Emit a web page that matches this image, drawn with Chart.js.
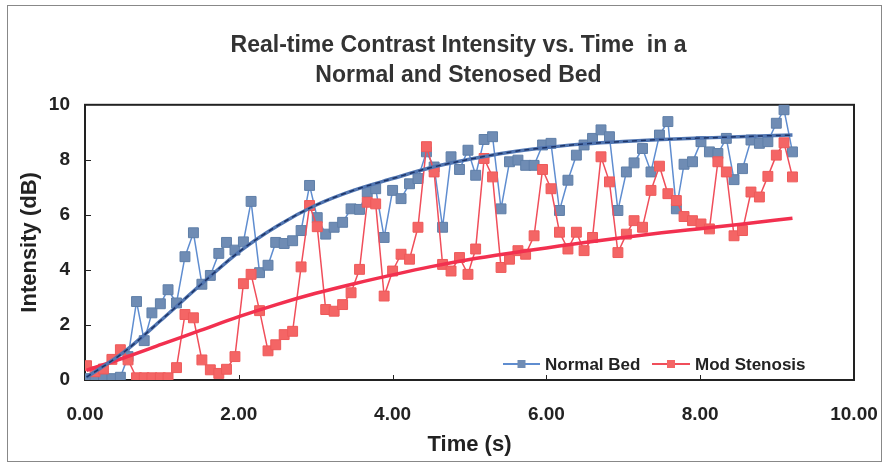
<!DOCTYPE html>
<html>
<head>
<meta charset="utf-8">
<script src="https://cdn.jsdelivr.net/npm/chart.js@4"></script>
<style>
  body { margin: 0; background: #fff; }
  canvas { display: block; }
</style>
</head>
<body>
<canvas id="intensityChart" width="883" height="464"></canvas>
<script>
// sample times (s)
const times = [0.02, 0.13, 0.24, 0.35, 0.46, 0.56, 0.67, 0.77, 0.87, 0.98,
  1.08, 1.19, 1.30, 1.41, 1.52, 1.63, 1.74, 1.84, 1.95, 2.06,
  2.16, 2.27, 2.38, 2.48, 2.59, 2.70, 2.81, 2.92, 3.02, 3.13,
  3.24, 3.35, 3.46, 3.57, 3.67, 3.78, 3.89, 4.00, 4.11, 4.22,
  4.33, 4.44, 4.54, 4.65, 4.76, 4.87, 4.98, 5.08, 5.19, 5.30,
  5.41, 5.52, 5.63, 5.73, 5.84, 5.95, 6.06, 6.17, 6.28, 6.39,
  6.49, 6.60, 6.71, 6.82, 6.93, 7.04, 7.14, 7.25, 7.36, 7.47,
  7.58, 7.69, 7.79, 7.90, 8.01, 8.12, 8.23, 8.34, 8.44, 8.55,
  8.66, 8.77, 8.88, 8.99, 9.09, 9.20];

// Normal Bed intensity (dB)
const normalBed = [0.05, 0.05, 0.05, 0.05, 0.1, 0.85, 2.85, 1.43, 2.44, 2.77,
  3.28, 2.8, 4.48, 5.35, 3.48, 3.8, 4.6, 5.0, 4.72, 5.02,
  6.49, 3.9, 4.17, 5.0, 4.96, 5.06, 5.43, 7.07, 5.9, 5.3,
  5.55, 5.73, 6.22, 6.2, 6.83, 6.95, 5.18, 6.89, 6.59, 7.13,
  7.32, 8.29, 7.74, 5.55, 8.11, 7.65, 8.35, 7.44, 8.74, 8.84,
  6.22, 7.93, 7.99, 7.8, 7.8, 8.54, 8.6, 6.16, 7.26, 8.17,
  8.54, 8.78, 9.09, 8.84, 6.16, 7.56, 7.89, 8.41, 7.56, 8.9,
  9.39, 6.22, 7.84, 7.93, 8.66, 8.29, 8.23, 8.78, 7.28, 7.68,
  8.72, 8.6, 8.66, 9.33, 9.82, 8.29];

// Mod Stenosis intensity (dB)
const modStenosis = [0.52, 0.3, 0.4, 0.75, 1.1, 0.73, 0.08, 0.08, 0.08, 0.08,
  0.08, 0.45, 2.38, 2.26, 0.73, 0.37, 0.24, 0.39, 0.85, 3.5,
  3.84, 2.52, 1.06, 1.28, 1.65, 1.77, 4.11, 6.34, 5.57, 2.56,
  2.5, 2.74, 3.17, 4.02, 6.46, 6.4, 3.05, 3.96, 4.57, 4.39,
  5.55, 8.48, 7.56, 4.2, 3.96, 4.45, 3.84, 4.76, 8.05, 7.38,
  4.09, 4.39, 4.7, 4.57, 5.24, 7.65, 6.95, 5.37, 4.76, 5.37,
  4.7, 5.18, 8.11, 7.2, 4.63, 5.3, 5.79, 5.55, 6.89, 7.77,
  6.77, 6.52, 5.94, 5.79, 5.67, 5.49, 7.93, 7.56, 5.24, 5.43,
  6.83, 6.65, 7.4, 8.17, 8.62, 7.38];

// trend lines
const trendTimes = [0.02, 0.5, 1.0, 1.5, 2.0, 2.5, 3.0, 3.5, 4.0, 4.5, 5.0, 5.5, 6.0, 6.5, 7.0, 7.5, 8.0, 8.5, 9.2];
const normalTrend = [0.1, 1.0, 2.2, 3.45, 4.65, 5.6, 6.35, 6.9, 7.32, 7.72, 8.02, 8.27, 8.45, 8.58, 8.67, 8.74, 8.79, 8.84, 8.9];
const stenosisTrend = [0.35, 0.8, 1.3, 1.8, 2.3, 2.75, 3.15, 3.5, 3.82, 4.12, 4.38, 4.6, 4.8, 5.0, 5.18, 5.35, 5.5, 5.65, 5.88];

const xTicks = [0, 2, 4, 6, 8, 10];

const pts = (xs, ys) => xs.map((x, i) => ({ x: x, y: ys[i] }));

const BLUE_MARK = '#6F8CB4';
const BLUE_LINE = '#5F8DD0';
const RED_MARK = '#F46565';
const RED_LINE = '#F04E5A';
const FONT = '"Liberation Sans", Arial, sans-serif';

const framePlugin = {
  id: 'frame',
  beforeDatasetsDraw(chart) {
    const { ctx, chartArea: a, scales } = chart;
    ctx.save();
    // outer frame
    ctx.strokeStyle = '#888';
    ctx.lineWidth = 1;
    ctx.strokeRect(7.5, 5.5, 874, 456);
    // plot box
    ctx.strokeStyle = '#222';
    ctx.lineWidth = 2;
    ctx.strokeRect(a.left, a.top, a.right - a.left, a.bottom - a.top);
    // inward tick marks
    ctx.lineWidth = 1;
    xTicks.forEach(v => {
      const px = Math.round(scales.x.getPixelForValue(v)) + 0.5;
      ctx.beginPath(); ctx.moveTo(px, a.bottom); ctx.lineTo(px, a.bottom - 5); ctx.stroke();
    });
    [2, 4, 6, 8].forEach(v => {
      const py = Math.round(scales.y.getPixelForValue(v)) + 0.5;
      ctx.beginPath(); ctx.moveTo(a.left, py); ctx.lineTo(a.left + 6, py); ctx.stroke();
    });
    ctx.restore();
  },
  afterDraw(chart) {
    // legend inside the plot, bottom right
    const { ctx } = chart;
    const items = [
      { ds: chart.data.datasets[0], x0: 503, x1: 540, tx: 545 },
      { ds: chart.data.datasets[1], x0: 652, x1: 690, tx: 695 }
    ];
    const y = 364;
    ctx.save();
    ctx.font = 'bold 17px ' + FONT;
    ctx.textBaseline = 'middle';
    items.forEach(it => {
      ctx.strokeStyle = it.ds.borderColor;
      ctx.lineWidth = 2;
      ctx.beginPath(); ctx.moveTo(it.x0, y); ctx.lineTo(it.x1, y); ctx.stroke();
      const mx = (it.x0 + it.x1) / 2;
      ctx.fillStyle = it.ds.pointBackgroundColor;
      ctx.fillRect(mx - 4, y - 4, 8, 8);
      ctx.fillStyle = '#222';
      ctx.fillText(it.ds.label, it.tx, y + 1);
    });
    ctx.restore();
  }
};

const ctx = document.getElementById('intensityChart').getContext('2d');
const intensityChart = new Chart(ctx, {
  type: 'scatter',
  data: {
    datasets: [
      {
        label: 'Normal Bed',
        data: pts(times, normalBed),
        showLine: true,
        borderColor: BLUE_LINE,
        borderWidth: 1.5,
        pointStyle: 'rect',
        pointRadius: 7,
        pointBackgroundColor: BLUE_MARK,
        pointBorderColor: '#5F7FA8',
        pointBorderWidth: 1,
        order: 4
      },
      {
        label: 'Mod Stenosis',
        data: pts(times, modStenosis),
        showLine: true,
        borderColor: RED_LINE,
        borderWidth: 1.5,
        pointStyle: 'rect',
        pointRadius: 7,
        pointBackgroundColor: RED_MARK,
        pointBorderColor: '#EE5A5A',
        pointBorderWidth: 1,
        order: 3
      },
      {
        label: 'stenosis trend',
        data: pts(trendTimes, stenosisTrend),
        showLine: true,
        borderColor: '#F2304F',
        borderWidth: 3.5,
        pointRadius: 0,
        cubicInterpolationMode: 'monotone',
        order: 2
      },
      {
        label: 'normal trend',
        data: pts(trendTimes, normalTrend),
        showLine: true,
        borderColor: '#5176B2',
        borderWidth: 3.5,
        pointRadius: 0,
        cubicInterpolationMode: 'monotone',
        order: 1
      },
      {
        label: 'normal trend dash',
        data: pts(trendTimes, normalTrend),
        showLine: true,
        borderColor: '#1E3568',
        borderWidth: 1.5,
        borderDash: [5, 4],
        pointRadius: 0,
        cubicInterpolationMode: 'monotone',
        order: 0
      }
    ]
  },
  options: {
    responsive: false,
    animation: false,
    // left padding shifts the title centre to the right, like the original
    layout: { padding: { left: 34, right: 0, top: 0, bottom: 0 } },
    plugins: {
      legend: { display: false },
      tooltip: { enabled: false },
      title: {
        display: true,
        text: ['Real-time Contrast Intensity vs. Time  in a', 'Normal and Stenosed Bed'],
        color: '#333',
        font: { family: FONT, size: 23, weight: 'bold', lineHeight: 1.3 },
        padding: { top: 31, bottom: 14 }
      }
    },
    scales: {
      x: {
        type: 'linear',
        min: 0,
        max: 10,
        afterBuildTicks: axis => { axis.ticks = xTicks.map(v => ({ value: v })); },
        afterFit: axis => {
          axis.height = 84;
          axis.paddingLeft = 0;
          axis.paddingRight = 29;
        },
        grid: { display: false, drawTicks: false },
        border: { display: false },
        ticks: {
          padding: 23,
          color: '#222',
          font: { family: FONT, size: 19, weight: 'bold' },
          callback: v => v.toFixed(2)
        },
        title: {
          display: true,
          text: 'Time (s)',
          color: '#222',
          font: { family: FONT, size: 22, weight: 'bold' },
          padding: { top: 0, bottom: 6 }
        }
      },
      y: {
        min: 0,
        max: 10,
        afterFit: axis => {
          axis.width = 51;
          axis.paddingTop = 0;
          axis.paddingBottom = 0;
        },
        grid: { display: false, drawTicks: false },
        border: { display: false },
        ticks: {
          stepSize: 2,
          padding: 15,
          color: '#222',
          font: { family: FONT, size: 19, weight: 'bold' }
        },
        title: {
          display: true,
          text: 'Intensity (dB)',
          color: '#222',
          font: { family: FONT, size: 22, weight: 'bold' },
          padding: { top: -17, bottom: 0 }
        }
      }
    }
  },
  plugins: [framePlugin]
});
</script>
</body>
</html>
